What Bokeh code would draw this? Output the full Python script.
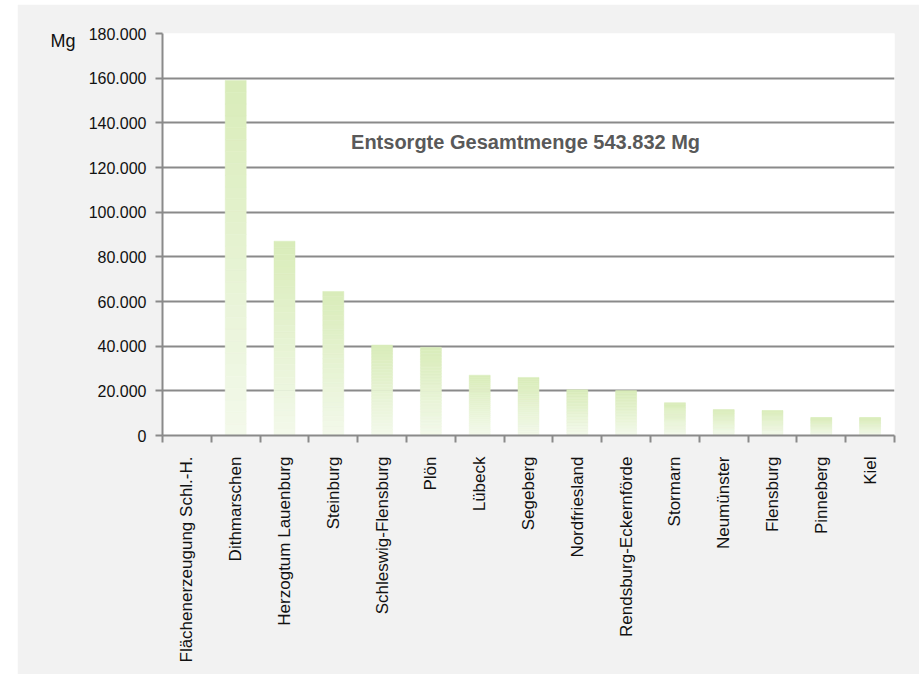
import numpy as np
from bokeh.plotting import figure
from bokeh.models import Range1d, FixedTicker, Label, LinearAxis, Spacer
from bokeh.layouts import row, column
from bokeh.embed import file_html
from bokeh.resources import INLINE

categories = ["Flächenerzeugung Schl.-H.", "Dithmarschen", "Herzogtum Lauenburg", "Steinburg",
              "Schleswig-Flensburg", "Plön", "Lübeck", "Segeberg", "Nordfriesland",
              "Rendsburg-Eckernförde", "Stormarn", "Neumünster", "Flensburg", "Pinneberg", "Kiel"]
values = [0, 159000, 87000, 64500, 40500, 39500, 27000, 26000, 20500, 20100,
          14700, 11600, 11200, 8050, 8050]
y_ticks = [0, 20000, 40000, 60000, 80000, 100000, 120000, 140000, 160000, 180000]
y_tick_labels = ["0", "20.000", "40.000", "60.000", "80.000", "100.000", "120.000",
                 "140.000", "160.000", "180.000"]
unit_label = "Mg"
annotation_text = "Entsorgte Gesamtmenge 543.832 Mg"

FONT = "Liberation Sans"
GRID = "#8a8a8a"

n = len(categories)
centers = np.arange(n) + 0.5

p = figure(width=902, height=670, output_backend="svg", toolbar_location=None,
           x_range=Range1d(0, n), y_range=Range1d(0, 180000),
           min_border_left=145, min_border_right=25, min_border_top=29, min_border_bottom=239)
p.background_fill_color = "white"
p.border_fill_color = "#f2f2f2"
p.outline_line_color = None

# gradient bars (each bar split into slices of its own height)
top_rgb = np.array([0xd9, 0xec, 0xb9])
bot_rgb = np.array([0xf3, 0xf9, 0xeb])
steps = 30
vals = np.array(values, dtype=float)
for k in range(steps):
    f0, f1 = k / steps, (k + 1) / steps
    t = (k + 0.5) / steps
    c = bot_rgb + (top_rgb - bot_rgb) * t
    col = "#%02x%02x%02x" % tuple(int(round(v)) for v in c)
    p.vbar(x=centers, width=0.43, bottom=vals * f0, top=vals * f1,
           fill_color=col, line_color=col, line_width=0.5)

# x axis
xa = p.xaxis[0]
xa.ticker = FixedTicker(ticks=list(centers), minor_ticks=list(np.arange(n + 1)))
xa.major_label_overrides = {float(c): lab for c, lab in zip(centers, categories)}
xa.major_label_orientation = np.pi / 2
xa.major_tick_out = 0
xa.major_tick_in = 0
xa.minor_tick_out = 7
xa.minor_tick_in = 0
xa.minor_tick_line_color = GRID
xa.minor_tick_line_width = 2
xa.axis_line_color = GRID
xa.axis_line_width = 2
xa.major_label_standoff = 14
xa.major_label_text_font = FONT
xa.major_label_text_font_size = "17px"
xa.major_label_text_color = "#111111"

# y axis
ya = p.yaxis[0]
ya.ticker = FixedTicker(ticks=y_ticks)
ya.major_label_overrides = {t: lab for t, lab in zip(y_ticks, y_tick_labels)}
ya.major_tick_out = 7
ya.major_tick_in = 0
ya.minor_tick_line_color = None
ya.major_tick_line_color = GRID
ya.major_tick_line_width = 2
ya.axis_line_color = GRID
ya.axis_line_width = 2
ya.major_label_standoff = 9
ya.major_label_text_font = FONT
ya.major_label_text_font_size = "16px"
ya.major_label_text_color = "#111111"

# unit label "Mg" as an extra left axis carrying a single label
unit_axis = LinearAxis(ticker=FixedTicker(ticks=[176500]),
                       major_label_overrides={176500: unit_label})
unit_axis.axis_line_color = None
unit_axis.major_tick_line_color = None
unit_axis.minor_tick_line_color = None
unit_axis.major_tick_out = 0
unit_axis.major_tick_in = 0
unit_axis.major_label_standoff = 10
unit_axis.major_label_text_font = FONT
unit_axis.major_label_text_font_size = "18px"
unit_axis.major_label_text_color = "#111111"
p.add_layout(unit_axis, "left")

p.xgrid.visible = False
p.ygrid.ticker = FixedTicker(ticks=y_ticks)
p.ygrid.grid_line_color = GRID
p.ygrid.grid_line_width = 2

p.add_layout(Label(x=7.44, y=131500, text=annotation_text, text_font=FONT,
                   text_font_size="20px", text_font_style="bold", text_color="#595959",
                   text_align="center", text_baseline="middle"))

layout = column(Spacer(width=10, height=4), row(Spacer(width=17, height=10), p))
open("out.html", "w").write(file_html(layout, INLINE))
